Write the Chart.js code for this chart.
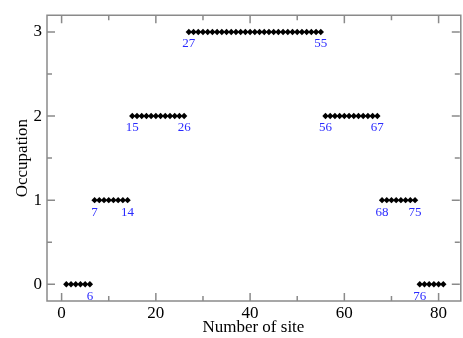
<!DOCTYPE html>
<html>
<head>
<meta charset="utf-8">
<script src="https://cdn.jsdelivr.net/npm/chart.js@4/dist/chart.umd.min.js"></script>
<style>
html,body{margin:0;padding:0;background:#fff;}
#wrap{width:463px;height:338px;position:relative;}
</style>
</head>
<body>
<div id="wrap"><canvas id="c" width="463" height="338"></canvas></div>
<script>
// Occupation of each site (site numbers 1..81)
const sites = [];
for (let i = 1; i <= 81; i++) sites.push(i);
const occupation = [
  0,0,0,0,0,0,
  1,1,1,1,1,1,1,1,
  2,2,2,2,2,2,2,2,2,2,2,2,
  3,3,3,3,3,3,3,3,3,3,3,3,3,3,3,3,3,3,3,3,3,3,3,3,3,3,3,3,3,
  2,2,2,2,2,2,2,2,2,2,2,2,
  1,1,1,1,1,1,1,1,
  0,0,0,0,0,0
];
const labelSites = [6, 7, 14, 15, 26, 27, 55, 56, 67, 68, 75, 76];
const xTicks = [0, 20, 40, 60, 80];
const yTicks = [0, 1, 2, 3];
const xMinor = [10, 30, 50, 70];
const yMinor = [0.5, 1.5, 2.5];

const serif = "'Liberation Serif', 'DejaVu Serif', serif";
const axisColor = '#8a8a8a';

const points = sites.map((s, i) => ({x: s, y: occupation[i]}));

const framePlugin = {
  id: 'frame',
  afterDraw(chart) {
    const ctx = chart.ctx;
    const a = chart.chartArea;
    const xs = chart.scales.x, ys = chart.scales.y;
    ctx.save();
    ctx.strokeStyle = axisColor;
    ctx.lineWidth = 1.5;
    ctx.beginPath();
    ctx.rect(a.left, a.top, a.right - a.left + 1, a.bottom - a.top);
    ctx.stroke();
    ctx.beginPath();
    const maj = 8, mn = 5;
    xTicks.forEach(v => {
      const px = xs.getPixelForValue(v);
      ctx.moveTo(px, a.bottom); ctx.lineTo(px, a.bottom - maj);
      ctx.moveTo(px, a.top); ctx.lineTo(px, a.top + maj);
    });
    xMinor.forEach(v => {
      const px = xs.getPixelForValue(v);
      ctx.moveTo(px, a.bottom); ctx.lineTo(px, a.bottom - mn);
      ctx.moveTo(px, a.top); ctx.lineTo(px, a.top + mn);
    });
    yTicks.forEach(v => {
      const py = ys.getPixelForValue(v);
      ctx.moveTo(a.left, py); ctx.lineTo(a.left + maj, py);
      ctx.moveTo(a.right, py); ctx.lineTo(a.right - maj, py);
    });
    yMinor.forEach(v => {
      const py = ys.getPixelForValue(v);
      ctx.moveTo(a.left, py); ctx.lineTo(a.left + mn, py);
      ctx.moveTo(a.right, py); ctx.lineTo(a.right - mn, py);
    });
    ctx.stroke();
    // site labels
    ctx.fillStyle = '#2a2aff';
    ctx.font = '13px ' + serif;
    ctx.textAlign = 'center';
    ctx.textBaseline = 'middle';
    labelSites.forEach(s => {
      const px = xs.getPixelForValue(s);
      const py = ys.getPixelForValue(occupation[s - 1]);
      ctx.fillText(String(s), px, py + 12);
    });
    ctx.restore();
  }
};

new Chart(document.getElementById('c'), {
  type: 'scatter',
  data: {
    datasets: [{
      data: points,
      pointStyle: 'rectRot',
      pointRadius: 3.2,
      pointHoverRadius: 3.2,
      backgroundColor: '#000',
      borderColor: '#000',
      borderWidth: 0
    }]
  },
  options: {
    responsive: false,
    animation: false,
    events: [],
    layout: {padding: {top: 8, right: 0, left: 0, bottom: 0}},
    plugins: {legend: {display: false}, tooltip: {enabled: false}},
    scales: {
      x: {
        type: 'linear', min: -3.1, max: 84.5,
        afterBuildTicks(s) { s.ticks = xTicks.map(v => ({value: v})); },
        afterFit(s) { s.height = 37; },
        grid: {display: false, drawTicks: false},
        border: {display: false},
        ticks: {color: '#000', font: {family: serif, size: 17}, padding: 2, maxRotation: 0},
        title: {display: true, text: 'Number of site', color: '#000', font: {family: serif, size: 17}, padding: {top: -4, bottom: 0}}
      },
      y: {
        type: 'linear', min: -0.2, max: 3.2,
        afterBuildTicks(s) { s.ticks = yTicks.map(v => ({value: v})); },
        afterFit(s) { s.width = 47; },
        grid: {display: false, drawTicks: false},
        border: {display: false},
        ticks: {color: '#000', font: {family: serif, size: 17}, padding: 5},
        title: {display: true, text: 'Occupation', color: '#000', font: {family: serif, size: 17}, padding: {top: 12, bottom: 0}}
      }
    }
  },
  plugins: [framePlugin]
});
</script>
</body>
</html>
